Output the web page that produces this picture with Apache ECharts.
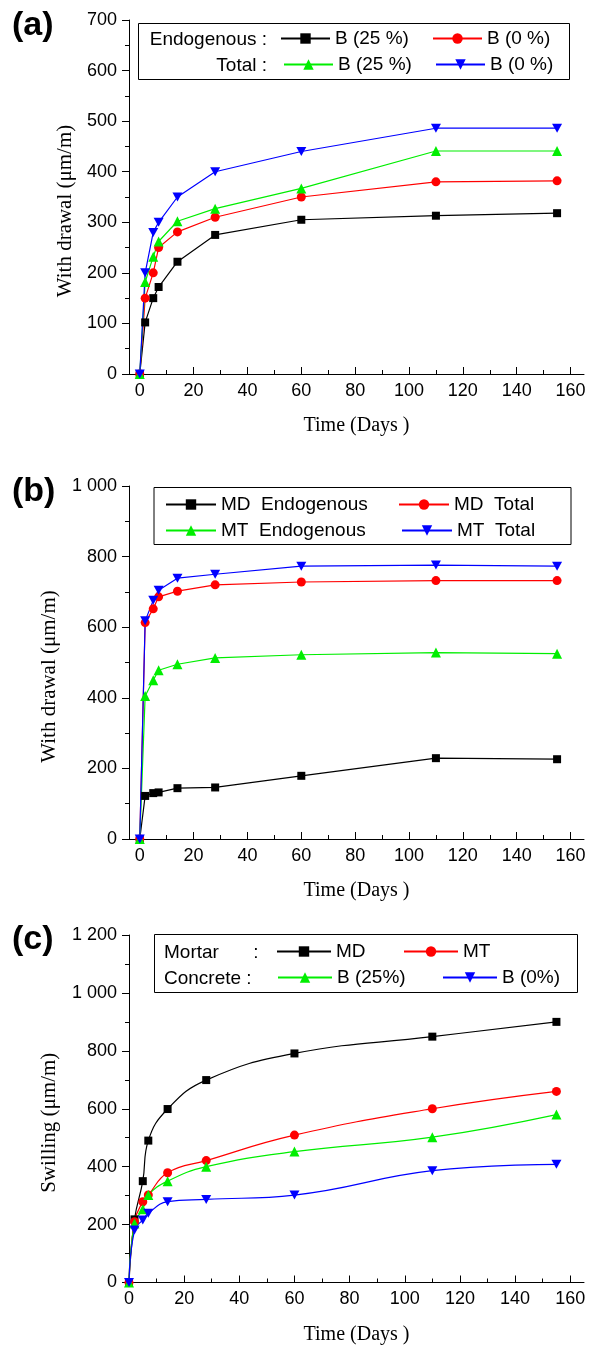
<!DOCTYPE html>
<html><head><meta charset="utf-8">
<script src="https://cdn.jsdelivr.net/npm/echarts@6/dist/echarts.min.js"></script>
<style>html,body{margin:0;padding:0;background:#fff}#c{width:602px;height:1346px}</style>
</head><body><div id="c"></div>
<script>
// ---- data ----
const days = [0, 2, 5, 7, 14, 28, 60, 110, 155];
const xTickValues = [0, 20, 40, 60, 80, 100, 120, 140, 160];
const xMinorValues = [10, 30, 50, 70, 90, 110, 130, 150];
// panel (a) withdrawal, concrete
const aEndoB25 = [0, 102, 150, 172, 222, 275, 305, 313, 318];
const aEndoB0  = [0, 150, 200, 250, 281, 310, 350, 380, 382];
const aTotB25  = [0, 182, 232, 262, 302, 327, 367, 441, 441];
const aTotB0   = [0, 200, 280, 300, 350, 400, 440, 486, 486];
// panel (b) withdrawal, mortar
const bMDEndo = [0, 122, 130, 132, 144, 146, 179, 229, 226];
const bMDTot  = [0, 613, 652, 686, 702, 720, 728, 732, 732];
const bMTEndo = [0, 405, 450, 478, 495, 513, 522, 528, 525];
const bMTTot  = [0, 618, 676, 705, 739, 750, 773, 776, 773];
// panel (c) swelling
const cMD  = [0, 218, 350, 490, 599, 699, 791, 849, 900];
const cMT  = [0, 210, 279, 302, 379, 421, 509, 600, 660];
const cB25 = [0, 204, 253, 302, 350, 400, 452, 502, 580];
const cB0  = [0, 181, 216, 239, 279, 287, 302, 386, 408];
// legend labels
const legendA = ['B (25 %)', 'B (0 %)', 'B (25 %)', 'B (0 %)'];
const legendB = ['MD  Endogenous', 'MD  Total', 'MT  Endogenous', 'MT  Total'];
const legendC = ['MD', 'MT', 'B (25%)', 'B (0%)'];

const SANS = 'Liberation Sans, Arial, sans-serif';
const SERIF = 'Liberation Serif, Times New Roman, serif';
const BLACK = '#000000', RED = '#ff0000', GREEN = '#00ee00', BLUE = '#0000ff';
const INV_TRI = 'path://M0,0L10,0L5,9Z';

const labelMap = {};
function fmtNum(v) { return String(v).replace(/\B(?=(\d{3})+(?!\d))/g, ' '); }

function xAxes(gi, min) {
  return [{
    type: 'value', gridIndex: gi, position: 'bottom', min: min, max: 165,
    name: 'Time (Days )', nameLocation: 'middle', nameGap: 42,
    nameTextStyle: { fontFamily: SERIF, fontSize: 20, color: '#000' },
    axisLine: { show: true, onZero: false, lineStyle: { color: '#000', width: 1 } },
    axisTick: { show: true, inside: true, length: 7, customValues: xTickValues, lineStyle: { color: '#000' } },
    axisLabel: { customValues: xTickValues, margin: 8, fontSize: 18, color: '#000', fontFamily: SANS },
    splitLine: { show: false }
  }, {
    type: 'value', gridIndex: gi, position: 'bottom', min: min, max: 165,
    axisLine: { show: false },
    axisTick: { show: true, inside: true, length: 4, customValues: xMinorValues, lineStyle: { color: '#000' } },
    axisLabel: { show: false }, splitLine: { show: false }
  }];
}
function yAxis(gi, max, name, nameGap) {
  return {
    type: 'value', gridIndex: gi, min: 0, max: max, interval: 200 * (max === 700 ? 0.5 : 1),
    name: name, nameLocation: 'middle', nameGap: nameGap,
    nameTextStyle: { fontFamily: SERIF, fontSize: 21, color: '#000', padding: [0, 28, 0, 0] },
    axisLine: { show: true, onZero: false, lineStyle: { color: '#000', width: 1 } },
    axisTick: { show: true, inside: false, length: 7, lineStyle: { color: '#000' } },
    minorTick: { show: true, splitNumber: 2, length: 4, lineStyle: { color: '#000' } },
    axisLabel: { margin: 12, fontSize: 18, color: '#000', fontFamily: SANS, formatter: fmtNum },
    splitLine: { show: false }, minorSplitLine: { show: false }
  };
}
function ser(id, label, data, gi, symbol, size, color, smooth) {
  labelMap[id] = label;
  return {
    name: id, type: 'line', xAxisIndex: gi * 2, yAxisIndex: gi,
    data: days.map((d, i) => [d, data[i]]),
    symbol: symbol, symbolSize: size, showSymbol: true,
    smooth: smooth ? 0.45 : false,
    lineStyle: { color: color, width: 1.2 }, itemStyle: { color: color },
    emphasis: { disabled: true }, clip: false
  };
}
function lg(id, left, centerY, w) {
  return {
    data: [id], left: left, top: centerY - 11, padding: 0, itemWidth: w, itemHeight: 13, itemGap: 0,
    selectedMode: false, textStyle: { fontSize: 19, color: '#000', fontFamily: SANS },
    formatter: n => labelMap[n]
  };
}

const series = [
  ser('a1', legendA[0], aEndoB25, 0, 'rect', 8, BLACK),
  ser('a2', legendA[1], aEndoB0, 0, 'circle', 9, RED),
  ser('a3', legendA[2], aTotB25, 0, 'triangle', 10, GREEN),
  ser('a4', legendA[3], aTotB0, 0, INV_TRI, [10, 9], BLUE),
  ser('b1', legendB[0], bMDEndo, 1, 'rect', 8, BLACK),
  ser('b2', legendB[1], bMDTot, 1, 'circle', 9, RED),
  ser('b3', legendB[2], bMTEndo, 1, 'triangle', 10, GREEN),
  ser('b4', legendB[3], bMTTot, 1, INV_TRI, [10, 9], BLUE),
  ser('c1', legendC[0], cMD, 2, 'rect', 8, BLACK, true),
  ser('c2', legendC[1], cMT, 2, 'circle', 9, RED, true),
  ser('c3', legendC[2], cB25, 2, 'triangle', 10, GREEN, true),
  ser('c4', legendC[3], cB0, 2, INV_TRI, [10, 9], BLUE, true)
];

const txt = (text, x, y, align, font) => ({
  type: 'text', x: x, y: y, silent: true,
  style: { text: text, align: align, verticalAlign: 'middle', font: font || ('19px ' + SANS), fill: '#000' }
});
const box = (x, y, w, h) => ({
  type: 'rect', silent: true, shape: { x: x, y: y, width: w, height: h },
  style: { fill: 'none', stroke: '#000', lineWidth: 1 }
});

const option = {
  animation: false,
  backgroundColor: '#fff',
  grid: [
    { left: 129, top: 20, width: 455, height: 354 },
    { left: 129, top: 486, width: 455, height: 353 },
    { left: 129, top: 935, width: 455, height: 347.5 }
  ],
  xAxis: [].concat(xAxes(0, -4), xAxes(1, -4), xAxes(2, 0)),
  yAxis: [
    yAxis(0, 700, 'With drawal (\u03bcm/m)', 50),
    yAxis(1, 1000, 'With drawal (\u03bcm/m)', 69),
    yAxis(2, 1200, 'Swilling (\u03bcm/m)', 69)
  ],
  legend: [
    lg('a1', 280, 40, 49), lg('a2', 432, 40, 49),
    lg('a3', 283, 66, 49), lg('a4', 435, 66, 49),
    lg('b1', 165, 506, 50), lg('b2', 398, 506, 50),
    lg('b3', 165, 532, 50), lg('b4', 401, 532, 50),
    lg('c1', 276, 953, 54), lg('c2', 403, 953, 54),
    lg('c3', 277, 979, 54), lg('c4', 442, 979, 54)
  ],
  graphic: [
    box(138.5, 23.5, 431, 56), box(154, 487.5, 417, 57), box(154.5, 934.5, 423, 58),
    txt('Endogenous :', 267, 40, 'right'), txt('Total :', 267, 66, 'right'),
    txt('Mortar', 164, 953, 'left'), txt(':', 256, 953, 'center'), txt('Concrete :', 164, 979, 'left'),
    txt('(a)', 12, 26, 'left', 'bold 34px ' + SANS),
    txt('(b)', 12, 492, 'left', 'bold 34px ' + SANS),
    txt('(c)', 12, 940, 'left', 'bold 34px ' + SANS)
  ],
  series: series
};
const chart = echarts.init(document.getElementById('c'), null, { renderer: 'canvas' });
chart.setOption(option);
</script></body></html>
